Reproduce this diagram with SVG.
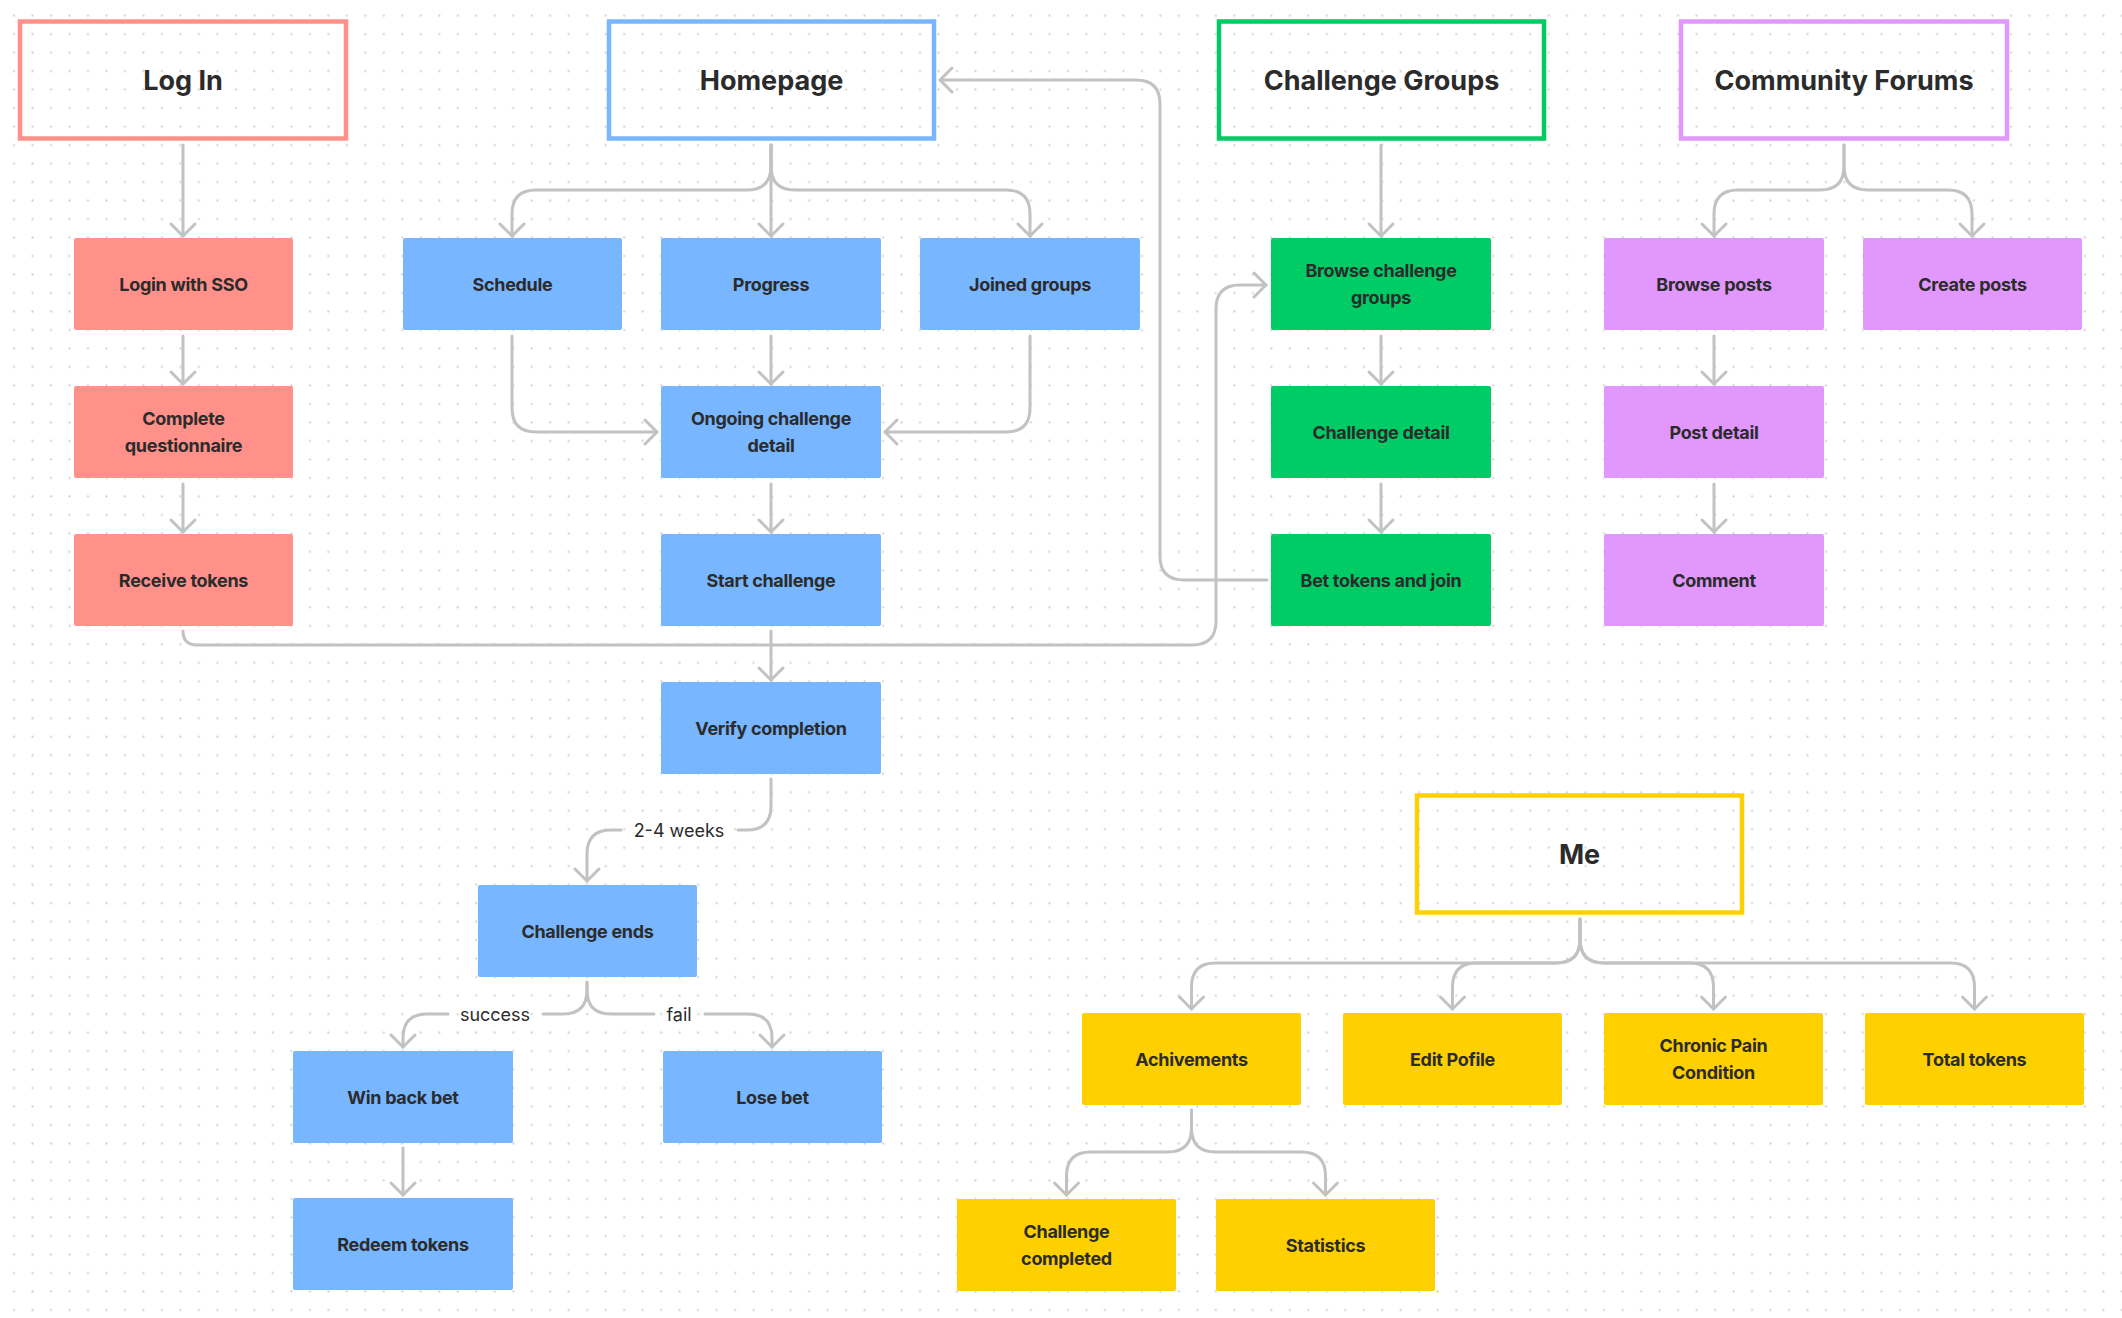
<svg xmlns="http://www.w3.org/2000/svg" width="2122" height="1318" viewBox="0 0 2122 1318">
<defs>
<pattern id="dots" patternUnits="userSpaceOnUse" x="4.755" y="6.455" width="18.49" height="18.49">
<circle cx="9.245" cy="9.245" r="1.1" fill="#cfcfcf"/>
</pattern>
<marker id="arr" viewBox="-16 -16 32 32" markerWidth="32" markerHeight="32" refX="0" refY="0" orient="auto" markerUnits="userSpaceOnUse">
<path d="M-12,-12 L0,0 L-12,12" fill="none" stroke="#c2c2c2" stroke-width="3" stroke-linecap="round" stroke-linejoin="round"/>
</marker>
<style>
.conn{fill:none;stroke:#c2c2c2;stroke-width:3;stroke-linecap:round;stroke-linejoin:round}
.hdr{fill:none;stroke-width:4.5}
.nd{stroke:none}
.red{fill:#ff918a}.blue{fill:#78b6ff}.green{fill:#00cc66}.violet{fill:#e197fc}.yellow{fill:#ffd000}
.t{font-family:Inter,"Liberation Sans",sans-serif;font-size:18px;font-weight:700;letter-spacing:-0.3px;fill:#2b2b2b;text-anchor:middle}
.h{font-family:Inter,"Liberation Sans",sans-serif;font-size:27px;font-weight:700;fill:#2b2b2b;text-anchor:middle}
.lbl{font-family:Inter,"Liberation Sans",sans-serif;font-size:18px;font-weight:400;fill:#2b2b2b;text-anchor:middle}
</style>
</defs>
<rect width="2122" height="1318" fill="#ffffff"/>
<rect width="2122" height="1318" fill="url(#dots)"/>

<g id="connectors">
<path class="conn" marker-end="url(#arr)" d="M183 145 V236"/>
<path class="conn" marker-end="url(#arr)" d="M183 336 V384"/>
<path class="conn" marker-end="url(#arr)" d="M183 484 V532"/>
<path class="conn" marker-end="url(#arr)" d="M183 631 Q183 645 197 645 H1192 Q1216 645 1216 621 V309 Q1216 285 1240 285 H1266"/>
<path class="conn" marker-end="url(#arr)" d="M771 145 V166 Q771 190 747 190 H536 Q512 190 512 214 V236"/>
<path class="conn" marker-end="url(#arr)" d="M771 145 V236"/>
<path class="conn" marker-end="url(#arr)" d="M771 145 V166 Q771 190 795 190 H1006 Q1030 190 1030 214 V236"/>
<path class="conn" marker-end="url(#arr)" d="M512 336 V408 Q512 432 536 432 H657"/>
<path class="conn" marker-end="url(#arr)" d="M771 336 V384"/>
<path class="conn" marker-end="url(#arr)" d="M1030 336 V408 Q1030 432 1006 432 H885"/>
<path class="conn" marker-end="url(#arr)" d="M771 484 V532"/>
<path class="conn" marker-end="url(#arr)" d="M771 631 V680"/>
<path class="conn" d="M771 779 V806 Q771 830 747 830 H738"/>
<path class="conn" marker-end="url(#arr)" d="M621 830 H611 Q587 830 587 854 V881"/>
<text class="lbl" x="679" y="836.5">2-4 weeks</text>
<path class="conn" d="M587 982 V990 Q587 1014 563 1014 H543"/>
<path class="conn" marker-end="url(#arr)" d="M448 1014 H427 Q403 1014 403 1038 V1047"/>
<text class="lbl" x="495" y="1020.5">success</text>
<path class="conn" d="M587 982 V990 Q587 1014 611 1014 H654"/>
<path class="conn" marker-end="url(#arr)" d="M705 1014 H748 Q772 1014 772 1038 V1047"/>
<text class="lbl" x="679" y="1020.5">fail</text>
<path class="conn" marker-end="url(#arr)" d="M403 1148 V1195"/>
<path class="conn" marker-end="url(#arr)" d="M1381 145 V236"/>
<path class="conn" marker-end="url(#arr)" d="M1381 336 V384"/>
<path class="conn" marker-end="url(#arr)" d="M1381 484 V532"/>
<path class="conn" marker-end="url(#arr)" d="M1267 580 H1184 Q1160 580 1160 556 V104 Q1160 80 1136 80 H940"/>
<path class="conn" marker-end="url(#arr)" d="M1844 145 V166 Q1844 190 1820 190 H1738 Q1714 190 1714 214 V236"/>
<path class="conn" marker-end="url(#arr)" d="M1844 145 V166 Q1844 190 1868 190 H1948 Q1972 190 1972 214 V236"/>
<path class="conn" marker-end="url(#arr)" d="M1714 336 V384"/>
<path class="conn" marker-end="url(#arr)" d="M1714 484 V532"/>
<path class="conn" marker-end="url(#arr)" d="M1580 919 V939 Q1580 963 1556 963 H1215.5 Q1191.5 963 1191.5 987 V1009"/>
<path class="conn" marker-end="url(#arr)" d="M1580 919 V939 Q1580 963 1556 963 H1476.5 Q1452.5 963 1452.5 987 V1009"/>
<path class="conn" marker-end="url(#arr)" d="M1580 919 V939 Q1580 963 1604 963 H1689.5 Q1713.5 963 1713.5 987 V1009"/>
<path class="conn" marker-end="url(#arr)" d="M1580 919 V939 Q1580 963 1604 963 H1950.5 Q1974.5 963 1974.5 987 V1009"/>
<path class="conn" marker-end="url(#arr)" d="M1191.5 1110 V1128 Q1191.5 1152 1167.5 1152 H1090.5 Q1066.5 1152 1066.5 1176 V1195"/>
<path class="conn" marker-end="url(#arr)" d="M1191.5 1110 V1128 Q1191.5 1152 1215.5 1152 H1301.5 Q1325.5 1152 1325.5 1176 V1195"/>
</g>

<g id="login-header"><rect class="hdr" x="20" y="21.5" width="326" height="117" stroke="#ff918a"/><text class="h" x="183" y="89.8">Log In</text></g>
<g id="homepage-header"><rect class="hdr" x="609" y="21.5" width="325" height="117" stroke="#78b6ff"/><text class="h" x="771.5" y="89.8">Homepage</text></g>
<g id="groups-header"><rect class="hdr" x="1219" y="21.5" width="325" height="117" stroke="#00cc66"/><text class="h" x="1381.5" y="89.8">Challenge Groups</text></g>
<g id="forums-header"><rect class="hdr" x="1681" y="21.5" width="326" height="117" stroke="#e197fc"/><text class="h" x="1844" y="89.8">Community Forums</text></g>
<g id="me-header"><rect class="hdr" x="1417" y="795.5" width="325" height="117" stroke="#ffd000"/><text class="h" x="1579.5" y="863.8">Me</text></g>

<g id="login-sso"><rect class="nd red" x="74" y="238" width="219" height="92" rx="2"/><text class="t" x="183.5" y="290.5">Login with SSO</text></g>
<g id="questionnaire"><rect class="nd red" x="74" y="386" width="219" height="92" rx="2"/><text class="t" x="183.5" y="424.7">Complete</text><text class="t" x="183.5" y="452.3">questionnaire</text></g>
<g id="receive-tokens"><rect class="nd red" x="74" y="534" width="219" height="92" rx="2"/><text class="t" x="183.5" y="586.5">Receive tokens</text></g>

<g id="schedule"><rect class="nd blue" x="403" y="238" width="219" height="92" rx="2"/><text class="t" x="512.5" y="290.5">Schedule</text></g>
<g id="progress"><rect class="nd blue" x="661" y="238" width="220" height="92" rx="2"/><text class="t" x="771" y="290.5">Progress</text></g>
<g id="joined-groups"><rect class="nd blue" x="920" y="238" width="220" height="92" rx="2"/><text class="t" x="1030" y="290.5">Joined groups</text></g>
<g id="ongoing"><rect class="nd blue" x="661" y="386" width="220" height="92" rx="2"/><text class="t" x="771" y="424.7">Ongoing challenge</text><text class="t" x="771" y="452.3">detail</text></g>
<g id="start-challenge"><rect class="nd blue" x="661" y="534" width="220" height="92" rx="2"/><text class="t" x="771" y="586.5">Start challenge</text></g>
<g id="verify"><rect class="nd blue" x="661" y="682" width="220" height="92" rx="2"/><text class="t" x="771" y="734.5">Verify completion</text></g>
<g id="challenge-ends"><rect class="nd blue" x="478" y="885" width="219" height="92" rx="2"/><text class="t" x="587.5" y="937.5">Challenge ends</text></g>
<g id="win-back"><rect class="nd blue" x="293" y="1051" width="220" height="92" rx="2"/><text class="t" x="403" y="1103.5">Win back bet</text></g>
<g id="lose-bet"><rect class="nd blue" x="663" y="1051" width="219" height="92" rx="2"/><text class="t" x="772.5" y="1103.5">Lose bet</text></g>
<g id="redeem"><rect class="nd blue" x="293" y="1198" width="220" height="92" rx="2"/><text class="t" x="403" y="1250.5">Redeem tokens</text></g>

<g id="browse-groups"><rect class="nd green" x="1271" y="238" width="220" height="92" rx="2"/><text class="t" x="1381" y="276.7">Browse challenge</text><text class="t" x="1381" y="304.3">groups</text></g>
<g id="challenge-detail"><rect class="nd green" x="1271" y="386" width="220" height="92" rx="2"/><text class="t" x="1381" y="438.5">Challenge detail</text></g>
<g id="bet-join"><rect class="nd green" x="1271" y="534" width="220" height="92" rx="2"/><text class="t" x="1381" y="586.5">Bet tokens and join</text></g>

<g id="browse-posts"><rect class="nd violet" x="1604" y="238" width="220" height="92" rx="2"/><text class="t" x="1714" y="290.5">Browse posts</text></g>
<g id="create-posts"><rect class="nd violet" x="1863" y="238" width="219" height="92" rx="2"/><text class="t" x="1972.5" y="290.5">Create posts</text></g>
<g id="post-detail"><rect class="nd violet" x="1604" y="386" width="220" height="92" rx="2"/><text class="t" x="1714" y="438.5">Post detail</text></g>
<g id="comment"><rect class="nd violet" x="1604" y="534" width="220" height="92" rx="2"/><text class="t" x="1714" y="586.5">Comment</text></g>

<g id="achievements"><rect class="nd yellow" x="1082" y="1013" width="219" height="92" rx="2"/><text class="t" x="1191.5" y="1065.5">Achivements</text></g>
<g id="edit-profile"><rect class="nd yellow" x="1343" y="1013" width="219" height="92" rx="2"/><text class="t" x="1452.5" y="1065.5">Edit Pofile</text></g>
<g id="chronic-pain"><rect class="nd yellow" x="1604" y="1013" width="219" height="92" rx="2"/><text class="t" x="1713.5" y="1051.7">Chronic Pain</text><text class="t" x="1713.5" y="1079.3">Condition</text></g>
<g id="total-tokens"><rect class="nd yellow" x="1865" y="1013" width="219" height="92" rx="2"/><text class="t" x="1974.5" y="1065.5">Total tokens</text></g>
<g id="challenge-completed"><rect class="nd yellow" x="957" y="1199" width="219" height="92" rx="2"/><text class="t" x="1066.5" y="1237.7">Challenge</text><text class="t" x="1066.5" y="1265.3">completed</text></g>
<g id="statistics"><rect class="nd yellow" x="1216" y="1199" width="219" height="92" rx="2"/><text class="t" x="1325.5" y="1251.5">Statistics</text></g>
</svg>
